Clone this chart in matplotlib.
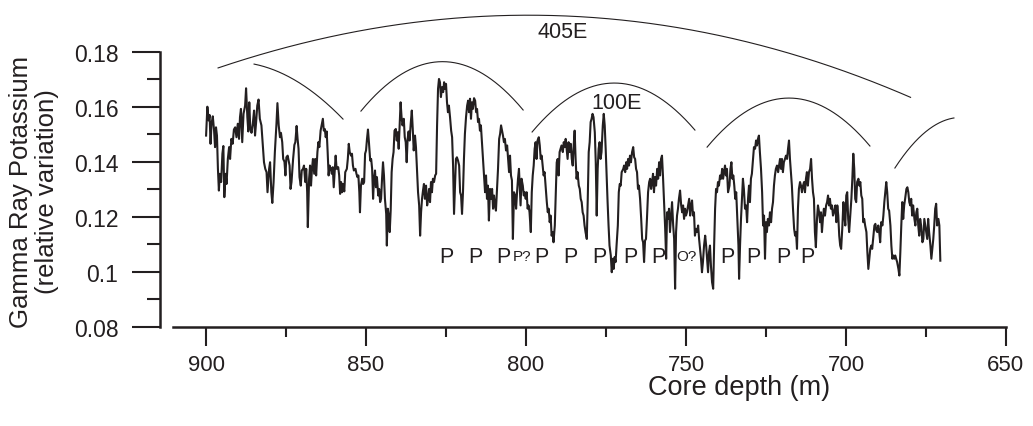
import numpy as np
from matplotlib import pyplot as plt

plt.rcParams['font.family'] = ['Liberation Sans', 'DejaVu Sans']

# gamma ray potassium trace (depth in m, relative variation)
depth_m = [
    900.0, 899.6, 899.2, 898.9, 898.6, 898.3, 897.9, 897.5, 897.2, 896.9,
    896.6, 896.3, 896.0, 895.7, 895.3, 894.9, 894.6, 894.3, 893.9, 893.6,
    893.2, 892.8, 892.5, 892.1, 891.7, 891.3, 890.9, 890.5, 890.1, 889.7,
    889.4, 889.1, 888.7, 888.3, 887.8, 887.5, 887.1, 886.8, 886.5, 886.2,
    885.8, 885.4, 885.0, 884.7, 884.4, 884.0, 883.6, 883.2, 882.7, 882.3,
    881.9, 881.5, 881.1, 880.8, 880.3, 880.0, 879.6, 879.3, 878.9, 878.5,
    878.0, 877.7, 877.3, 876.9, 876.6, 876.2, 875.9, 875.5, 875.2, 874.9,
    874.5, 874.2, 873.9, 873.6, 873.3, 872.8, 872.4, 872.1, 871.7, 871.4,
    871.1, 870.8, 870.4, 870.1, 869.7, 869.4, 869.0, 868.7, 868.4,
    868.2, 867.8, 867.5, 867.2, 866.9, 866.6, 866.2, 865.9, 865.6, 865.2,
    864.9, 864.6, 864.2, 863.9, 863.5, 863.2, 862.9, 862.6, 862.3, 862.0,
    861.7, 861.4, 861.0, 860.7, 860.4, 860.1, 859.8, 859.5, 859.2, 858.7,
    858.4, 858.1, 857.8, 857.5, 857.2, 856.8, 856.5, 856.0, 855.7, 855.4,
    855.1, 854.7, 854.4, 854.1, 853.8, 853.3, 853.0, 852.7, 852.4, 852.1,
    851.9, 851.6, 851.2, 850.9, 850.6, 850.3, 850.0, 849.7, 849.4, 849.1,
    848.7, 848.4, 848.1, 847.8, 847.5, 847.2, 846.9, 846.6, 846.2, 845.9,
    845.6, 845.3, 845.0, 844.7, 844.4, 844.1, 843.7, 843.5, 843.2, 842.9,
    842.6, 842.3, 842.0, 841.7, 841.4, 841.1, 840.7, 840.4, 840.1, 839.8,
    839.5, 839.2, 838.9, 838.6, 838.2, 837.9, 837.6, 837.3, 837.0, 836.7,
    836.4, 836.0, 835.7, 835.4, 835.1,
    834.7, 834.4, 834.1, 833.75, 833.4, 833.1, 832.8, 832.5, 832.2, 831.9,
    831.6, 831.25, 830.9, 830.6, 830.3, 830.0, 829.7, 829.4, 829.1, 828.75,
    828.4, 828.1, 827.8, 827.5, 827.2, 826.9, 826.6, 826.25, 825.9, 825.6,
    825.3, 825.0, 824.7, 824.4, 824.1, 823.75, 823.4, 823.1, 822.8, 822.5,
    822.2, 821.9, 821.6, 821.25, 820.9, 820.6, 820.3, 820.0, 819.7, 819.4,
    819.1, 818.75, 818.4, 818.1, 817.8, 817.5, 817.2, 816.9, 816.6, 816.25,
    815.9, 815.6, 815.3, 815.0, 814.7, 814.4, 814.1, 813.75, 813.4, 813.1,
    812.8, 812.5, 812.2, 811.9, 811.6, 811.25, 810.9, 810.6, 810.3, 810.0,
    809.7, 809.4, 809.1, 808.75, 808.4, 808.1, 807.8, 807.5, 807.2, 806.9,
    806.6, 806.25, 805.9, 805.6, 805.3, 805.0, 804.7, 804.4, 804.1, 803.75,
    803.4, 803.1, 802.8, 802.5, 802.2,
    801.7, 801.4, 801.0, 800.7, 800.4, 800.1, 799.8, 799.5, 799.2, 798.9,
    798.5, 798.2, 797.9, 797.6, 797.3, 797.0, 796.7, 796.4, 796.0, 795.7,
    795.4, 795.1, 794.8, 794.5, 794.2, 793.9, 793.5, 793.2, 792.9, 792.6,
    792.3, 792.0, 791.7, 791.4, 791.0, 790.7, 790.4, 790.1, 789.8, 789.5,
    789.2, 788.9, 788.5, 788.2, 787.9, 787.6, 787.3, 787.0, 786.7, 786.4,
    786.0, 785.7, 785.4, 785.1, 784.8, 784.5, 784.2, 783.9, 783.5, 783.2,
    782.9, 782.6, 782.3, 782.0, 781.7, 781.4, 781.0, 780.7, 780.4, 780.1,
    779.8, 779.5, 779.2, 778.9, 778.5, 778.2, 777.9, 777.6, 777.3, 777.0,
    776.7, 776.4, 776.0, 775.7, 775.4, 775.1, 774.8, 774.5, 774.2, 773.9,
    773.5, 773.2, 772.9, 772.6, 772.3, 772.0, 771.7, 771.3, 771.0, 770.7,
    770.4, 770.1, 769.6,
    769.35, 769.0, 768.7, 768.4, 768.1, 767.8, 767.5, 767.2, 766.85, 766.5,
    766.2, 765.9, 765.6, 765.3, 765.0, 764.7, 764.35, 764.0, 763.7, 763.4,
    763.1, 762.8, 762.5, 762.2, 761.85, 761.5, 761.2, 760.9, 760.6, 760.3,
    760.0, 759.7, 759.35, 759.0, 758.7, 758.4, 758.1, 757.8, 757.5, 757.2,
    756.85, 756.5, 756.2, 755.9, 755.6, 755.3, 755.0, 754.7, 754.35, 754.0,
    753.7, 753.4, 753.1, 752.8, 752.5, 752.2, 751.85, 751.5, 751.2, 750.9,
    750.6, 750.3, 750.0, 749.7, 749.35, 749.0, 748.7, 748.4, 748.1, 747.8,
    747.5, 747.2, 746.85, 746.5, 746.2, 745.9, 745.6, 745.3, 745.0, 744.7,
    744.35, 744.0, 743.7, 743.4, 743.1, 742.8, 742.5, 742.2, 741.85, 741.5,
    741.2, 740.9, 740.6, 740.3, 740.0, 739.7, 739.35, 739.0, 738.7, 738.4,
    738.1, 737.8, 737.5, 737.2, 736.85, 736.4,
    736.1, 735.8, 735.5, 735.2, 734.9, 734.6, 734.3, 733.95, 733.6, 733.4,
    733.1, 732.8, 732.5, 732.2, 731.9, 731.55, 731.2, 730.9, 730.6, 730.3,
    730.0, 729.7, 729.4, 729.05, 728.75, 728.4, 728.1, 727.8, 727.5, 727.2,
    726.9, 726.55, 726.2, 725.9, 725.6, 725.3, 725.0, 724.7, 724.4, 724.05,
    723.75, 723.4, 723.1, 722.8, 722.5, 722.2, 721.9, 721.55, 721.2, 720.9,
    720.6, 720.3, 720.0, 719.7, 719.4, 719.05, 718.75, 718.4, 718.1, 717.8,
    717.5, 717.2, 716.9, 716.55, 716.2, 715.9, 715.6, 715.3, 715.0, 714.7,
    714.35, 714.05, 713.75, 713.4, 713.1, 712.8, 712.5, 712.2, 711.9, 711.55,
    711.2, 710.9, 710.6, 710.3, 710.0, 709.7, 709.4, 709.05, 708.75, 708.4,
    708.1, 707.8, 707.5, 707.2, 706.9, 706.55, 706.2, 705.9, 705.6, 705.3,
    705.0, 704.7, 704.35, 704.05, 703.6,
    703.3, 703.0, 702.7, 702.4, 702.1, 701.8, 701.5, 701.1, 700.8, 700.5,
    700.2, 699.9, 699.6, 699.3, 699.0, 698.6, 698.3, 698.0, 697.7, 697.4,
    697.1, 696.8, 696.5, 696.1, 695.8, 695.5, 695.2, 694.9, 694.6, 694.3,
    694.0, 693.6, 693.3, 693.0, 692.7, 692.4, 692.1, 691.8, 691.5, 691.1,
    690.8, 690.5, 690.2, 689.9, 689.6, 689.3, 689.0, 688.6, 688.3, 688.0,
    687.7, 687.4, 687.1, 686.8, 686.5, 686.1, 685.8, 685.5, 685.2, 684.9,
    684.6, 684.3, 684.0, 683.6, 683.3, 683.0, 682.7, 682.4, 682.1, 681.8,
    681.5, 681.1, 680.8, 680.5, 680.2, 679.9, 679.6, 679.3, 679.0, 678.6,
    678.3, 678.0, 677.7, 677.4, 677.1, 676.8, 676.5, 676.1, 675.8, 675.5,
    675.2, 674.9, 674.6, 674.3, 674.0, 673.6, 673.3, 673.0, 672.7, 672.4,
    672.1, 671.8, 671.5, 671.1, 670.8, 670.5,
]
k_rel = [
    .1495, .1600, .1550, .1570, .1465, .1538, .1565, .1513, .1453, .1525,
    .1495, .1374, .1295, .1356, .1326, .1429, .1457, .1271, .1356, .1319,
    .1410, .1453, .1410, .1483, .1465, .1517, .1525, .1489, .1538, .1483,
    .1562, .1592, .1471, .1574, .1604, .1667, .1562, .1510, .1616, .1525,
    .1505, .1538, .1586, .1495, .1538, .1604, .1626, .1556, .1532, .1465,
    .1398, .1374, .1362, .1289, .1374, .1398, .1289, .1250, .1326, .1435,
    .1538, .1613, .1532, .1489, .1505, .1471, .1410, .1400, .1350, .1416,
    .1422, .1404, .1386, .1301, .1326, .1410, .1461, .1471, .1530, .1483,
    .1447, .1344, .1313, .1368, .1374, .1386, .1326, .1374, .1289,
    .1162, .1338, .1386, .1313, .1374, .1410, .1356, .1410, .1350, .1435,
    .1471, .1453, .1513, .1532, .1556, .1513, .1519, .1489, .1510, .1435,
    .1350, .1386, .1374, .1356, .1380, .1307, .1368, .1422, .1374, .1380,
    .1350, .1283, .1326, .1289, .1319, .1292, .1362, .1374, .1410, .1465,
    .1435, .1422, .1429, .1386, .1368, .1374, .1356, .1344, .1350, .1289,
    .1216, .1313, .1338, .1319, .1326, .1429, .1441, .1483, .1517, .1471,
    .1404, .1410, .1374, .1265, .1338, .1368, .1307, .1344, .1277, .1301,
    .1253, .1265, .1338, .1398, .1350, .1265, .1210, .1095, .1229, .1204,
    .1144, .1222, .1362, .1410, .1435, .1513, .1519, .1477, .1507, .1447,
    .1532, .1616, .1562, .1532, .1556, .1489, .1471, .1398, .1483, .1510,
    .1477, .1544, .1586, .1519, .1441,
    .1495, .1453, .1374, .1289, .1241, .1131, .1216, .1265, .1295, .1319,
    .1265, .1313, .1241, .1265, .1301, .1253, .1326, .1289, .1338, .1326,
    .1350, .1356, .1532, .1665, .1701, .1689, .1635, .1671, .1653, .1689,
    .1665, .1683, .1616, .1580, .1604, .1562, .1513, .1489, .1386, .1210,
    .1313, .1410, .1416, .1404, .1386, .1289, .1277, .1210, .1289, .1410,
    .1501, .1562, .1604, .1622, .1580, .1629, .1556, .1616, .1592, .1631,
    .1622, .1580, .1592, .1544, .1556, .1513, .1532, .1465, .1398, .1338,
    .1289, .1350, .1265, .1313, .1186, .1301, .1265, .1301, .1229, .1277,
    .1241, .1222, .1289, .1374, .1483, .1501, .1532, .1513, .1495, .1471,
    .1483, .1441, .1459, .1410, .1362, .1422, .1350, .1332, .1119, .1289,
    .1277, .1229, .1289, .1338, .1374,
    .1241, .1338, .1313, .1277, .1289, .1265, .1289, .1229, .1241, .1216,
    .1144, .1289, .1350, .1386, .1447, .1471, .1410, .1477, .1489, .1459,
    .1410, .1422, .1386, .1350, .1362, .1313, .1253, .1216, .1229, .1180,
    .1204, .1131, .1144, .1107, .1168, .1289, .1398, .1410, .1350, .1435,
    .1447, .1459, .1435, .1471, .1453, .1483, .1447, .1410, .1471, .1435,
    .1465, .1410, .1386, .1459, .1513, .1410, .1338, .1362, .1313, .1301,
    .1265, .1253, .1216, .1204, .1168, .1144, .1119, .1265, .1435, .1471,
    .1544, .1556, .1574, .1562, .1507, .1398, .1204, .1374, .1447, .1471,
    .1410, .1435, .1532, .1574, .1532, .1447, .1350, .1253, .1168, .1095,
    .1059, .0998, .1047, .1010, .1053, .1035, .1095, .1168, .1289, .1319,
    .1313, .1362, .1374,
    .1386, .1362, .1398, .1374, .1410, .1386, .1422, .1398, .1435, .1453,
    .1416, .1410, .1374, .1362, .1301, .1313, .1265, .1192, .1119, .1107,
    .1035, .1113, .1119, .1192, .1289, .1326, .1338, .1301, .1326, .1356,
    .1289, .1344, .1313, .1374, .1338, .1398, .1350, .1410, .1422, .1350,
    .1253, .1156, .1047, .1216, .1192, .1229, .1144, .1192, .1253, .1168,
    .1119, .0938, .1144, .1204, .1229, .1265, .1295, .1241, .1216, .1241,
    .1192, .1229, .1204, .1216, .1241, .1265, .1204, .1241, .1259, .1204,
    .1216, .1131, .1156, .1144, .1168, .1119, .1083, .1047, .0998, .1035,
    .1095, .1131, .1095, .1047, .0998, .1071, .1095, .1022, .0962, .0938,
    .1095, .1229, .1301, .1289, .1326, .1313, .1350, .1338, .1374, .1338,
    .1362, .1386, .1350, .1374, .1289, .1313,
    .1374, .1398, .1338, .1350, .1313, .1265, .1289, .1192, .1095, .0974,
    .1095, .1192, .1265, .1338, .1301, .1229, .1241, .1180, .1265, .1313,
    .1253, .1338, .1356, .1410, .1453, .1447, .1477, .1459, .1483, .1495,
    .1435, .1374, .1289, .1168, .1204, .1047, .1180, .1144, .1192, .1168,
    .1216, .1180, .1229, .1253, .1313, .1350, .1374, .1386, .1362, .1386,
    .1410, .1374, .1410, .1362, .1398, .1410, .1422, .1410, .1447, .1477,
    .1410, .1362, .1313, .1229, .1156, .1131, .1144, .1083, .1229, .1301,
    .1326, .1313, .1289, .1313, .1326, .1289, .1338, .1362, .1313, .1362,
    .1374, .1410, .1338, .1289, .1265, .1144, .1089, .1192, .1241, .1216,
    .1180, .1216, .1144, .1192, .1229, .1204, .1241, .1253, .1277, .1241,
    .1265, .1229, .1241, .1204, .1222,
    .1241, .1180, .1241, .1204, .1131, .1095, .1083, .1168, .1253, .1204,
    .1168, .1277, .1289, .1192, .1144, .1216, .1265, .1338, .1429, .1374,
    .1265, .1253, .1326, .1338, .1313, .1326, .1277, .1265, .1180, .1192,
    .1168, .1144, .1071, .1010, .1047, .1083, .1095, .1083, .1119, .1168,
    .1174, .1150, .1144, .1168, .1144, .1107, .1180, .1168, .1204, .1253,
    .1289, .1326, .1289, .1229, .1222, .1168, .1095, .1047, .1059, .1047,
    .1059, .1047, .1035, .1010, .0986, .1071, .1168, .1253, .1192, .1241,
    .1265, .1301, .1307, .1289, .1253, .1241, .1265, .1204, .1241, .1192,
    .1168, .1216, .1229, .1168, .1131, .1192, .1168, .1107, .1119, .1192,
    .1168, .1144, .1119, .1192, .1144, .1095, .1047, .1083, .1119, .1168,
    .1229, .1247, .1168, .1192, .1168, .1040,
]

# precession (P) and obliquity (O) picks
p_depths = [824.8, 815.9, 807.1, 795.1, 786.25, 777.1, 767.5, 758.7,
            737.2, 729.0, 719.6, 712.1]
query_labels = ['P?', 'O?']
query_depths = [801.3, 749.8]
pick_level = 0.1057

# hand-drawn eccentricity arcs, key points (depth, value)
arcs_100e = [
    ([885.0, 870.6, 857.2], [0.1755, 0.1685, 0.1555]),
    ([851.6, 824.4, 800.9], [0.1584, 0.1763, 0.1588]),
    ([798.1, 772.5, 747.2], [0.1508, 0.1686, 0.1515]),
    ([743.4, 716.6, 692.5], [0.1453, 0.1631, 0.1457]),
    ([684.7, 676.9, 666.25], [0.1377, 0.1490, 0.1559]),
]
arc_405e = ([896.25, 847.5, 745.6, 679.8], [0.1741, 0.1885, 0.1873, 0.1634])

ink = '#231f20'

fig = plt.figure(figsize=(10.33, 4.27), dpi=100)
ax = fig.add_axes([0.1549, 0.2326, 0.8325, 0.747])

ax.plot(depth_m, k_rel, color=ink, lw=1.5)


def draw_arc(xs, ys):
    c = np.polyfit(xs, ys, len(xs) - 1)
    xx = np.linspace(xs[0], xs[-1], 200)
    ax.plot(xx, np.polyval(c, xx), color=ink, lw=0.8, clip_on=False)


for xs, ys in arcs_100e:
    draw_arc(xs, ys)
draw_arc(*arc_405e)

ax.text(788.4, 0.1875, '405E', fontsize=15.5, ha='center', va='center', color=ink)
ax.text(771.6, 0.1615, '100E', fontsize=15.5, ha='center', va='center', color=ink)
for d in p_depths:
    ax.text(d, pick_level, 'P', fontsize=15.5, ha='center', va='center', color=ink)
for d, s in zip(query_depths, query_labels):
    ax.text(d, pick_level, s, fontsize=11, ha='center', va='center', color=ink)

ax.set_xlim(914.4, 645.6)
ax.set_ylim(0.08, 0.196)
for s in ['top', 'right']:
    ax.spines[s].set_visible(False)
ax.spines['left'].set_bounds(0.08, 0.18)
ax.spines['bottom'].set_bounds(910.4, 650)
for s in ['left', 'bottom']:
    ax.spines[s].set_linewidth(1.8)
    ax.spines[s].set_color(ink)

ax.set_xticks([900, 850, 800, 750, 700, 650])
ax.set_xticks([875, 825, 775, 725, 675], minor=True)
ax.set_yticks([0.08, 0.10, 0.12, 0.14, 0.16, 0.18])
ax.set_yticklabels(['0.08', '0.1', '0.12', '0.14', '0.16', '0.18'])
ax.set_yticks([0.09, 0.11, 0.13, 0.15, 0.17], minor=True)
ax.tick_params(axis='y', which='major', length=20, width=1.5, pad=10, labelsize=16.5, colors=ink)
ax.tick_params(axis='y', which='minor', length=9.5, width=1.5, colors=ink)
ax.tick_params(axis='x', which='major', length=14, width=1.5, pad=6, labelsize=16, colors=ink)
ax.tick_params(axis='x', which='minor', length=7, width=1.5, colors=ink)

fig.text(739 / 1033, 1 - 388 / 427, 'Core depth (m)', fontsize=19.5,
         ha='center', va='center', color=ink)
fig.text(34 / 1033, 1 - 192 / 427, 'Gamma Ray Potassium\n(relative variation)',
         fontsize=18.5, ha='center', va='center', rotation=90, color=ink,
         linespacing=1.1)

fig.savefig('out.png', dpi=100)
